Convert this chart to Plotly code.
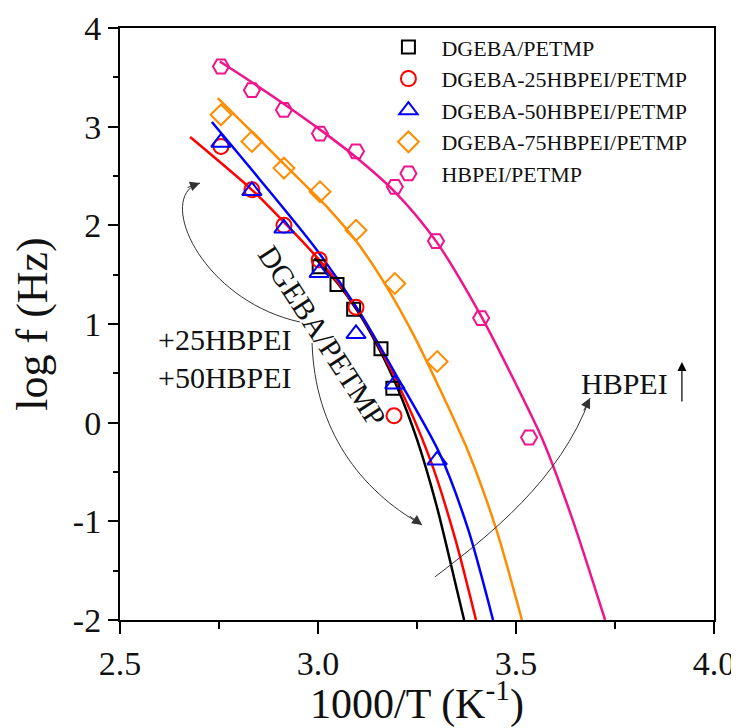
import plotly.graph_objects as go

# ---------------- data ----------------
names = ["DGEBA/PETMP", "DGEBA-25HBPEI/PETMP", "DGEBA-50HBPEI/PETMP",
         "DGEBA-75HBPEI/PETMP", "HBPEI/PETMP"]

# measured points
x_dgeba = [3.003, 3.048, 3.090, 3.159, 3.189]
y_dgeba = [1.58, 1.40, 1.15, 0.75, 0.35]

x_25 = [2.755, 2.833, 2.914, 3.003, 3.096, 3.192]
y_25 = [2.80, 2.36, 2.00, 1.65, 1.17, 0.07]

x_50 = [2.755, 2.833, 2.914, 3.003, 3.096, 3.194, 3.301]
y_50 = [2.84, 2.35, 1.97, 1.52, 0.90, 0.39, -0.38]

x_75 = [2.755, 2.833, 2.914, 3.005, 3.096, 3.194, 3.301]
y_75 = [3.12, 2.85, 2.58, 2.34, 1.95, 1.41, 0.62]

x_hb = [2.755, 2.833, 2.914, 3.005, 3.096, 3.194, 3.298, 3.412, 3.533]
y_hb = [3.61, 3.37, 3.17, 2.93, 2.75, 2.39, 1.84, 1.06, -0.15]

# fitted curves
fx_dgeba = [2.992, 3.05, 3.10, 3.15, 3.20, 3.25, 3.30, 3.35, 3.369]
fy_dgeba = [1.67, 1.41, 1.13, 0.78, 0.36, -0.17, -0.85, -1.68, -2.0]

fx_25 = [2.677, 2.833, 2.917, 3.005, 3.098, 3.194, 3.283, 3.346, 3.399]
fy_25 = [2.895, 2.36, 2.02, 1.64, 1.16, 0.46, -0.37, -1.17, -2.0]

fx_50 = [2.732, 2.854, 2.997, 3.106, 3.202, 3.308, 3.379, 3.442]
fy_50 = [3.047, 2.460, 1.750, 1.112, 0.45, -0.32, -1.08, -2.0]

fx_75 = [2.747, 2.85, 2.95, 3.03, 3.10, 3.17, 3.24, 3.31, 3.38, 3.45, 3.515]
fy_75 = [3.29, 2.878, 2.478, 2.155, 1.82, 1.40, 0.90, 0.32, -0.30, -1.08, -2.0]

fx_hb = [2.752, 2.833, 2.914, 3.005, 3.096, 3.194, 3.298, 3.412, 3.490, 3.568, 3.640, 3.725]
fy_hb = [3.66, 3.45, 3.23, 2.97, 2.69, 2.34, 1.84, 1.08, 0.47, -0.18, -0.95, -2.0]

x_ticks = [2.5, 3.0, 3.5, 4.0]
y_ticks = [-2, -1, 0, 1, 2, 3, 4]

# ---------------- styling ----------------
FONT = "Liberation Serif"
TXT = "#111111"
colors = ["#000000", "#FF0000", "#0000FF", "#FF8C00", "#F0148C"]
symbols = ["square-open", "circle-open", "triangle-up-open", "diamond-open", "hexagon2-open"]
sizes = [13, 15, 17, 16, 16]

pts = [(x_dgeba, y_dgeba), (x_25, y_25), (x_50, y_50), (x_75, y_75), (x_hb, y_hb)]
fits = [(fx_dgeba, fy_dgeba), (fx_25, fy_25), (fx_50, fy_50), (fx_75, fy_75), (fx_hb, fy_hb)]

fig = go.Figure()

for i in range(5):
    fx, fy = fits[i]
    fig.add_trace(go.Scatter(x=fx, y=fy, mode="lines", showlegend=False,
                             line=dict(color=colors[i], width=2.5, shape="spline", smoothing=0.8),
                             hoverinfo="skip"))

for i in range(5):
    px, py = pts[i]
    fig.add_trace(go.Scatter(x=px, y=py, mode="markers", name=names[i],
                             marker=dict(symbol=symbols[i], size=sizes[i],
                                         color=colors[i], line=dict(width=2, color=colors[i]))))

ARROW = "#333333"

# curved arrows (decorative annotations)
fig.add_shape(type="path", xref="x", yref="y",
              path="M 2.9545,1.020 C 2.702,1.243 2.588,2.307 2.702,2.429",
              line=dict(color=ARROW, width=1))
fig.add_shape(type="path", xref="x", yref="y",
              path="M 2.985,0.808 C 2.992,-0.074 3.106,-0.682 3.263,-1.037",
              line=dict(color=ARROW, width=1))
fig.add_shape(type="path", xref="x", yref="y",
              path="M 3.295,-1.564 C 3.434,-1.138 3.611,-0.581 3.687,0.250",
              line=dict(color=ARROW, width=1))

heads = [(2.702, 2.429, -14, 5), (3.263, -1.037, -14, -10), (3.687, 0.250, -7, 14)]
for hx, hy, ax, ay in heads:
    fig.add_annotation(x=hx, y=hy, ax=ax, ay=ay, text="", showarrow=True,
                       arrowhead=2, arrowsize=2, arrowwidth=1, arrowcolor=ARROW, standoff=0)

# vertical arrow next to HBPEI
fig.add_annotation(x=3.919, y=0.615, ax=0, ay=41, text="", showarrow=True,
                   arrowhead=2, arrowsize=1.5, arrowwidth=1.2, arrowcolor="#000000", standoff=0)

tfont = dict(family=FONT, size=30, color=TXT)
fig.add_annotation(x=2.765, y=0.84, text="+25HBPEI", showarrow=False, font=tfont)
fig.add_annotation(x=2.765, y=0.46, text="+50HBPEI", showarrow=False, font=tfont)
fig.add_annotation(x=3.775, y=0.40, text="HBPEI", showarrow=False, font=tfont)
fig.add_annotation(x=3.010, y=0.88, text="DGEBA/PETMP", showarrow=False, font=tfont,
                   textangle=57)

fig.update_layout(
    width=731, height=720,
    margin=dict(l=112, r=25, t=20, b=108),
    paper_bgcolor="white", plot_bgcolor="white",
    font=dict(family=FONT, color=TXT),
    showlegend=True,
    legend=dict(x=0.43, y=1.003, xanchor="left", yanchor="top",
                bgcolor="rgba(0,0,0,0)", font=dict(family=FONT, size=22, color=TXT),
                tracegroupgap=0, itemwidth=56),
)

fig.update_xaxes(range=[2.5, 4.0], tickvals=x_ticks, ticktext=[f"{v:.1f}" for v in x_ticks],
                 ticks="outside", ticklen=12, tickwidth=2, tickcolor="black",
                 minor=dict(dtick=0.25, ticks="outside", ticklen=7, tickwidth=2, tickcolor="black"),
                 showline=True, linewidth=2, linecolor="black", mirror=True,
                 showgrid=False, zeroline=False, automargin=False,
                 tickfont=dict(family=FONT, size=34, color=TXT),
                 title=dict(text="1000/T (K<sup>-1</sup>)", font=dict(family=FONT, size=42, color=TXT),
                            standoff=4))
fig.update_yaxes(range=[-2, 4], tickvals=y_ticks, ticktext=[str(v) for v in y_ticks],
                 ticks="outside", ticklen=10, tickwidth=2, tickcolor="black",
                 minor=dict(dtick=0.5, ticks="outside", ticklen=5, tickwidth=2, tickcolor="black"),
                 showline=True, linewidth=2, linecolor="black", mirror=True,
                 showgrid=False, zeroline=False, automargin=False,
                 tickfont=dict(family=FONT, size=34, color=TXT),
                 title=dict(text="log f (Hz)", font=dict(family=FONT, size=44, color=TXT),
                            standoff=12))

fig.write_html("out.html")
